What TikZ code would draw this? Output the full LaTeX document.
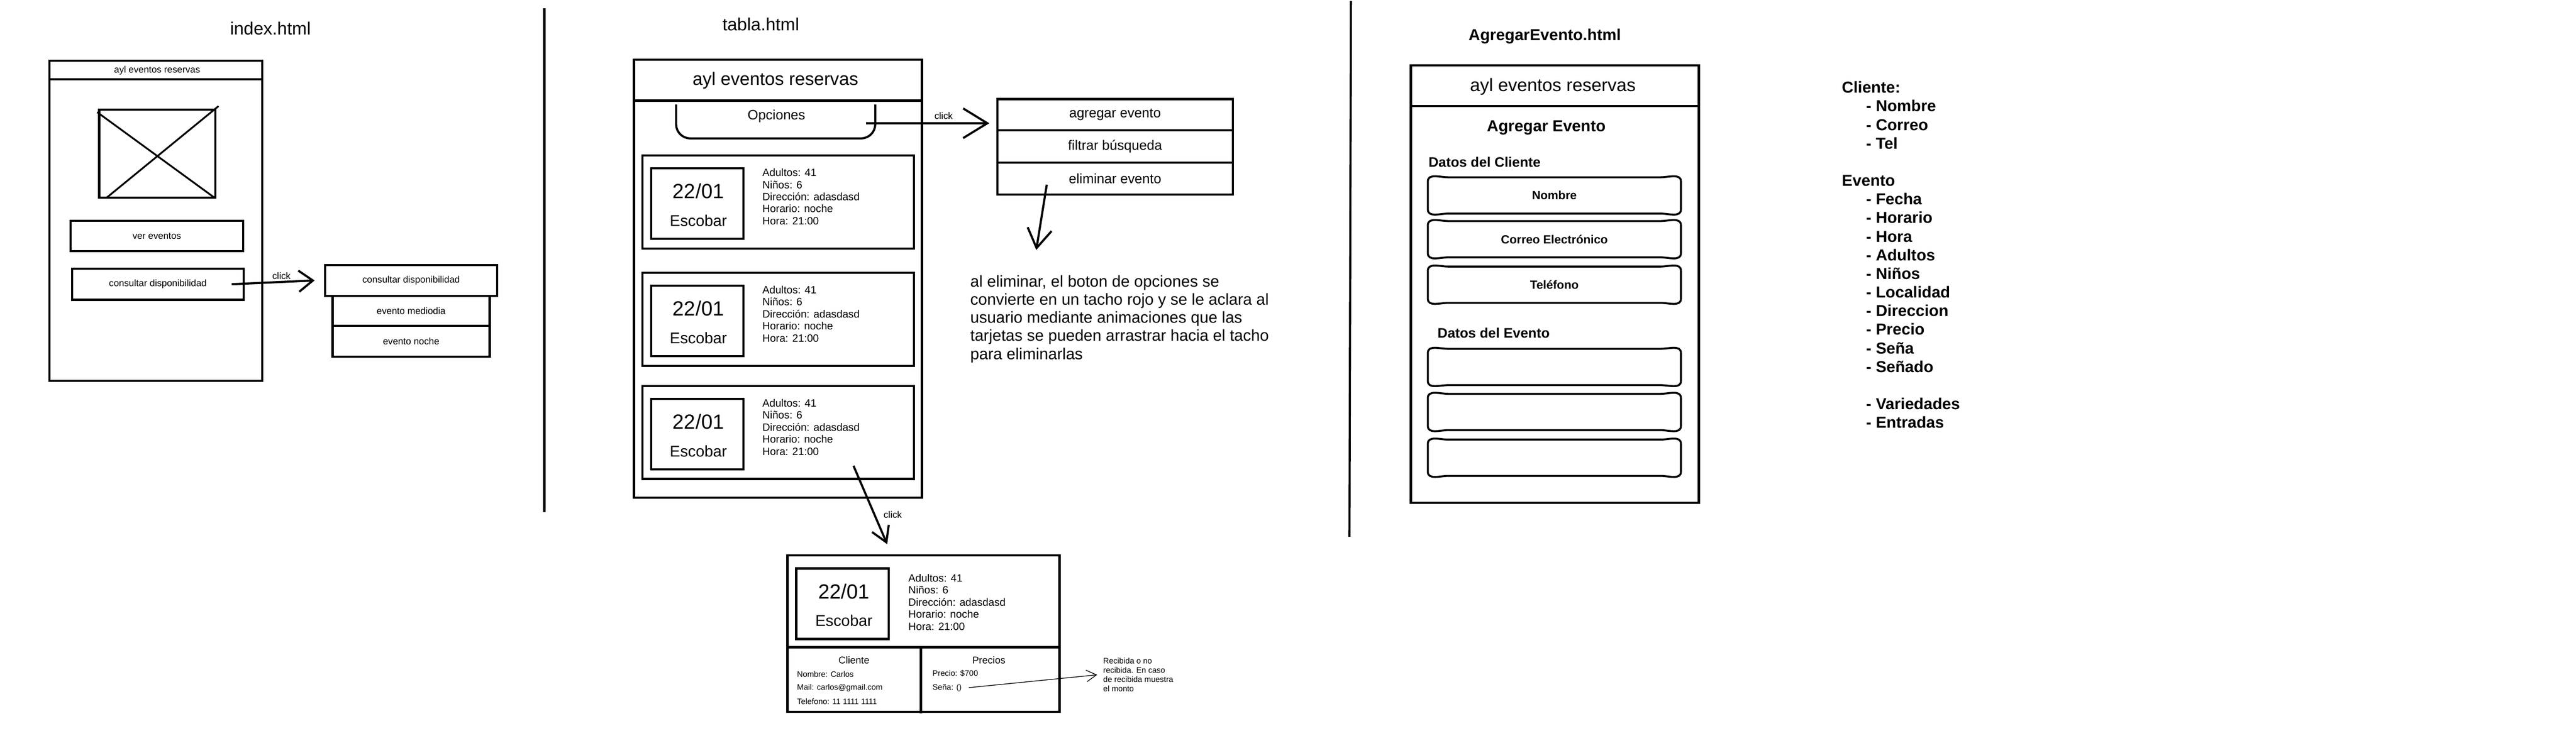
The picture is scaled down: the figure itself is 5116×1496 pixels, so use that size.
\documentclass[tikz,border=0pt]{standalone}
\usepackage{fontspec}
\setmainfont{Liberation Sans}
\usetikzlibrary{arrows.meta,positioning}

\begin{document}
\begin{tikzpicture}[x=0.01cm,y=-0.01cm,line width=1.2pt,
>={Straight Barb[length=0.3cm,width=0.4cm]},
box/.style={draw,inner sep=0pt,outer sep=0pt},
title/.style={font=\fontsize{10}{12}\selectfont},
titleb/.style={font=\bfseries\fontsize{9}{11}\selectfont},
head/.style={font=\fontsize{10.2}{12}\selectfont},
tiny/.style={font=\fontsize{5.3}{6.4}\selectfont},
mid/.style={font=\fontsize{7.7}{9}\selectfont},
day/.style={font=\fontsize{11.6}{13}\selectfont},
town/.style={font=\fontsize{8.8}{10}\selectfont},
info/.style={font=\fontsize{6}{6.83}\selectfont,align=left,anchor=west,inner sep=0pt},
note/.style={font=\fontsize{9}{10.24}\selectfont,align=left,anchor=west,inner sep=0pt},
sub/.style={font=\fontsize{5.6}{6.5}\selectfont},
small/.style={font=\fontsize{4.5}{5.2}\selectfont,align=left,anchor=west,inner sep=0pt},
secb/.style={font=\bfseries\fontsize{7.8}{9}\selectfont,anchor=west,inner sep=0pt},
field/.style={minimum width=4.98cm,minimum height=0.68cm,inner sep=0pt,font=\bfseries\fontsize{6.7}{8}\selectfont},
listb/.style={font=\bfseries\fontsize{9}{10.5}\selectfont,anchor=base west,inner sep=0pt}]
\useasboundingbox (0,0) rectangle (5116,1496);

% index.html
\node[title] (tIndex) at (537,56) {index.html};
\draw (98,121) rectangle (521,757);
\draw (98,158) -- (521,158);
\node[tiny] (hIndex) at (312,140) {ayl eventos reservas};
\draw (197,218) rectangle (428,393);
\draw[line width=1pt] (193,223) -- (426,393);
\draw[line width=1pt] (213,392) -- (434,211);
\node[box,tiny,minimum width=3.43cm,minimum height=0.6cm] (verBtn) at (311.5,469) {ver eventos};
\node[box,tiny,minimum width=3.41cm,minimum height=0.62cm] (consBtn) at (313.5,565) {consultar disponibilidad};
\node[box,tiny,minimum width=3.41cm,minimum height=0.61cm] (consMenu) at (816.5,557.5) {consultar disponibilidad};
\node[box,tiny,minimum width=3.12cm,minimum height=0.6cm,below=0pt of consMenu] (mediodia) {evento mediodia};
\node[box,tiny,minimum width=3.12cm,minimum height=0.61cm,below=0pt of mediodia] (noche) {evento noche};
\draw[->,>={Straight Barb[length=0.28cm,width=0.42cm]}] ([xshift=-0.24cm]consBtn.east) -- ([xshift=-0.21cm]consMenu.west);
\node[tiny] (clickA) at (559,548) {click};

% separadores
\draw (1081,16) -- (1081,1018);
\draw (2683,2) -- (2680,1067);

% tabla.html
\node[title] (tTabla) at (1511,48) {tabla.html};
\draw (1259,119) rectangle (1831,989);
\draw (1259,200) -- (1831,200);
\node[head] (hTabla) at (1540,160) {ayl eventos reservas};
\node[minimum width=3.91cm,minimum height=0.63cm,inner sep=0pt] (opcTab) at (1540.5,241.5) {};
\draw[rounded corners=8pt] (opcTab.north west) |- (opcTab.south) -| (opcTab.north east);
\node[mid] (opcText) at (1542,231) {Opciones};
\node[box,mid,minimum width=4.67cm,minimum height=0.62cm] (optAdd) at (2214.5,228) {agregar evento};
\node[box,mid,minimum width=4.67cm,minimum height=0.64cm,below=0pt of optAdd] (optFilter) {filtrar búsqueda};
\node[box,mid,minimum width=4.67cm,minimum height=0.64cm,below=0pt of optFilter] (optDel) {eliminar evento};
\draw[->,>={Straight Barb[length=0.48cm,width=0.59cm]}] ([xshift=-0.18cm,yshift=-0.035cm]opcTab.east) -- ([xshift=-0.16cm,yshift=-0.17cm]optAdd.west);
\node[tiny] (clickB) at (1874,230) {click};
\coordinate (delTip) at (2058,497);
\draw[->,>={Straight Barb[length=0.38cm,width=0.48cm]}] ([xshift=-1.355cm,yshift=0.2cm]optDel.south) -- (delTip);
\node[note] (noteDel) at (1925,634) {al eliminar, el boton de opciones se\\convierte en un tacho rojo y se le aclara al\\usuario mediante animaciones que las\\tarjetas se pueden arrastrar hacia el tacho\\para eliminarlas};

\foreach \i/\yc in {1/401.5,2/634.5,3/859.5}{
\node[box,minimum width=5.39cm,minimum height=1.85cm] (card\i) at (1545.5,\yc) {};
\node[box,minimum width=1.83cm,minimum height=1.4cm] (date\i) at (1384.5,\yc+3.5) {};
\node[day] (day\i) at (1387,\yc-21.5) {22/01};
\node[town] (town\i) at (1387,\yc+37.5) {Escobar};
\node[info] (info\i) at (1512,\yc-10.5) {Adultos: 41\\Niños: 6\\Dirección: adasdasd\\Horario: noche\\Hora: 21:00};
}

% detalle de la tarjeta
\node[box,line width=1.4pt,minimum width=5.4cm,minimum height=3.11cm] (detail) at (1834,1259.5) {};
\draw[line width=1.4pt] (1564,1287) -- (2104,1287);
\draw[line width=1.4pt] (1829,1287) -- (1829,1418);
\draw[->,>={Straight Barb[length=0.3cm,width=0.36cm]}] ([xshift=1.495cm,yshift=-0.665cm]card3.center) -- ([xshift=-0.72cm,yshift=0.22cm]detail.north);
\node[tiny] (clickC) at (1773,1023) {click};
\node[box,line width=1.4pt,minimum width=1.84cm,minimum height=1.4cm] (dDate) at (1673,1200) {};
\node[day] (dDay) at (1676,1176) {22/01};
\node[town] (dTown) at (1676,1234) {Escobar};
\node[info] (dInfo) at (1802,1197) {Adultos: 41\\Niños: 6\\Dirección: adasdasd\\Horario: noche\\Hora: 21:00};
\node[sub] (cliTitle) at (1696,1312) {Cliente};
\node[small] (cliName) at (1581,1340) {Nombre: Carlos};
\node[small] (cliMail) at (1581,1367) {Mail: carlos@gmail.com};
\node[small] (cliTel) at (1581,1395) {Telefono: 11 1111 1111};
\node[sub] (preTitle) at (1964,1312) {Precios};
\node[small] (precio) at (1850,1339) {Precio: \$700};
\node[small] (sena) at (1850,1367) {Seña: ()};
\node[small] (recNote) at (2189,1341.5) {Recibida o no\\recibida. En caso\\de recibida muestra\\el monto};
\draw[line width=0.4pt,->,>={Straight Barb[length=0.2cm,width=0.23cm]}] ([xshift=0.12cm]sena.east) -- ([xshift=-0.1cm]recNote.west);

% AgregarEvento.html
\node[titleb] (tAgregar) at (3068,72) {AgregarEvento.html};
\draw (2802,130) rectangle (3374,1000);
\draw (2802,211) -- (3374,211);
\node[head] (hAgregar) at (3084,172) {ayl eventos reservas};
\node[titleb] (formTitle) at (3071,254) {Agregar Evento};
\node[secb] (secCli) at (2835,322) {Datos del Cliente};
\foreach \lbl/\yc [count=\k] in {Nombre/388.5,Correo Electrónico/475.5,Teléfono/566}
\node[field] (fCli\k) at (3087,\yc) {\lbl};
\node[secb] (secEvt) at (2853,662) {Datos del Evento};
\foreach \yc [count=\k] in {729.5,819,910}
\node[field] (fEvt\k) at (3087,\yc) {};
% bordes de los campos
\foreach \f in {fCli1,fCli2,fCli3,fEvt1,fEvt2,fEvt3}
\draw[line width=1.1pt] ([yshift=-0.08cm]\f.north west) to[out=90,in=180] ([xshift=0.4cm]\f.north west)
 -- ([xshift=-0.4cm]\f.north east) to[out=0,in=90] ([yshift=-0.08cm]\f.north east)
 -- ([yshift=0.08cm]\f.south east) to[out=-90,in=0] ([xshift=-0.4cm]\f.south east)
 -- ([xshift=0.4cm]\f.south west) to[out=180,in=-90] ([yshift=0.08cm]\f.south west) -- cycle;

% atributos
\node[listb] (lCli) at (3656,185) {Cliente:};
\foreach \txt [count=\k] in {Nombre,Correo,Tel}
\node[listb] (lCli\k) at (3704,185+37*\k) {- \txt};
\node[listb] (lEvt) at (3656,370) {Evento};
\foreach \txt [count=\k] in {Fecha,Horario,Hora,Adultos,Niños,Localidad,Direccion,Precio,Seña,Señado}
\node[listb] (lEvt\k) at (3704,370+37*\k) {- \txt};
\foreach \txt [count=\k] in {Variedades,Entradas}
\node[listb] (lExt\k) at (3704,777+37*\k) {- \txt};
\end{tikzpicture}
\end{document}
